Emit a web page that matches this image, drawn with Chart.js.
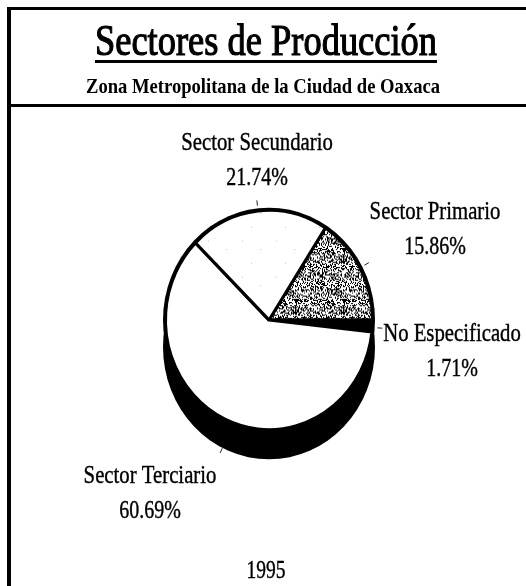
<!DOCTYPE html>
<html lang="es">
<head>
<meta charset="utf-8">
<title>Sectores de Producción</title>
<script src="https://cdn.jsdelivr.net/npm/chart.js@4.4.1/dist/chart.umd.min.js"></script>
<style>
	html, body { margin: 0; padding: 0; background: #fff; }
	#sectorChart { display: block; }
</style>
</head>
<body>
<canvas id="sectorChart" width="526" height="586"></canvas>
<script>
// Datos de los sectores (orden de las rebanadas, sentido horario)
const sectores = ['Sector Primario', 'No Especificado', 'Sector Terciario', 'Sector Secundario']
const porcentajes = [15.86, 1.71, 60.69, 21.74]
const titulo = 'Sectores de Producción'
const subtitulo = 'Zona Metropolitana de la Ciudad de Oaxaca'
const anio = '1995'

// Posición de cada etiqueta: centro x y línea base del nombre
const posEtiquetas = [
	{ x: 435, y: 219 },
	{ x: 452, y: 341 },
	{ x: 150, y: 483 },
	{ x: 257, y: 150 },
]

const PROFUNDIDAD = 27
const ESTIRAR_Y = 1.06
const COMPRIMIR = 0.83
const fuente = '"Liberation Serif", "Times New Roman", serif'

// Trama punteada densa (sector primario)
function tramaDensa() {
	const c = document.createElement('canvas')
	c.width = 48
	c.height = 48
	const g = c.getContext('2d')
	g.fillStyle = '#fff'
	g.fillRect(0, 0, 48, 48)
	g.fillStyle = '#000'
	for (let y = 0; y < 48; y++) {
		for (let x = 0; x < 48; x++) {
			const h = Math.sin(x * 12.9898 + y * 78.233) * 43758.5453
			if (h - Math.floor(h) < 0.45) g.fillRect(x, y, 1, 1)
		}
	}
	return g.createPattern(c, 'repeat')
}

// Trama clara con pocos puntos (sector secundario)
function tramaClara() {
	const c = document.createElement('canvas')
	c.width = 34
	c.height = 34
	const g = c.getContext('2d')
	g.fillStyle = '#fff'
	g.fillRect(0, 0, 34, 34)
	g.fillStyle = '#c8c8c8'
	g.fillRect(4, 7, 1, 1)
	g.fillRect(22, 15, 1, 1)
	g.fillRect(13, 28, 1, 1)
	return g.createPattern(c, 'repeat')
}

// Texto centrado, comprimido horizontalmente
function texto(ctx, txt, cx, base, font, escala, trazo) {
	ctx.font = font
	const w = ctx.measureText(txt).width
	ctx.save()
	ctx.translate(cx, base)
	ctx.scale(escala, 1)
	ctx.textAlign = 'center'
	ctx.textBaseline = 'alphabetic'
	ctx.fillStyle = '#000'
	ctx.fillText(txt, 0, 0)
	if (trazo) {
		ctx.strokeStyle = '#000'
		ctx.lineWidth = trazo
		ctx.strokeText(txt, 0, 0)
	}
	ctx.restore()
	return w * escala
}

// Marco, sombra 3D, marcas y textos
const pastel3d = {
	id: 'pastel3d',
	beforeDraw(chart) {
		const ctx = chart.ctx
		ctx.save()
		ctx.fillStyle = '#000'
		ctx.fillRect(8, 7, 518, 3)
		ctx.fillRect(8, 104, 518, 3)
		ctx.fillRect(7, 7, 4, 579)
		ctx.restore()
	},
	beforeDatasetsDraw(chart) {
		const ctx = chart.ctx
		const arc = chart.getDatasetMeta(0).data[0]
		const { x, y, outerRadius } = arc.getProps(['x', 'y', 'outerRadius'], true)
		const r = outerRadius + 2.5
		ctx.save()
		ctx.fillStyle = '#000'
		ctx.beginPath()
		ctx.ellipse(x, y + PROFUNDIDAD, r, r * ESTIRAR_Y, 0, 0, Math.PI * 2)
		ctx.fill()
		ctx.beginPath()
		ctx.ellipse(x, y, r, r * ESTIRAR_Y, 0, 0, Math.PI * 2)
		ctx.fill()
		ctx.restore()
		ctx.save()
		ctx.translate(x, y)
		ctx.scale(1, ESTIRAR_Y)
		ctx.translate(-x, -y)
	},
	afterDatasetsDraw(chart) {
		chart.ctx.restore()
	},
	afterDraw(chart) {
		const ctx = chart.ctx
		const arcs = chart.getDatasetMeta(0).data

		// Marcas cortas junto a cada rebanada
		ctx.save()
		ctx.strokeStyle = '#222'
		ctx.lineWidth = 1
		arcs.forEach((arc) => {
			const p = arc.getProps(['x', 'y', 'startAngle', 'endAngle', 'outerRadius'], true)
			const a = (p.startAngle + p.endAngle) / 2
			const bajar = PROFUNDIDAD * Math.max(0, Math.sin(a))
			const r1 = p.outerRadius + 5
			const r2 = p.outerRadius + 10
			ctx.beginPath()
			ctx.moveTo(p.x + Math.cos(a) * r1, p.y + Math.sin(a) * r1 * ESTIRAR_Y + bajar)
			ctx.lineTo(p.x + Math.cos(a) * r2, p.y + Math.sin(a) * r2 * ESTIRAR_Y + bajar)
			ctx.stroke()
		})
		ctx.restore()

		// Título subrayado y subtítulo
		ctx.font = '44px ' + fuente
		const escT = 342 / ctx.measureText(titulo).width
		const wt = texto(ctx, titulo, 266, 55, '44px ' + fuente, escT, 1.2)
		ctx.fillStyle = '#000'
		ctx.fillRect(266 - wt / 2, 60, wt, 3)
		ctx.font = 'bold 21px ' + fuente
		const escS = 354 / ctx.measureText(subtitulo).width
		texto(ctx, subtitulo, 263, 93, 'bold 21px ' + fuente, escS)

		// Etiquetas de los sectores
		sectores.forEach((nombre, i) => {
			const pos = posEtiquetas[i]
			texto(ctx, nombre, pos.x, pos.y, '25px ' + fuente, COMPRIMIR, 0.4)
			texto(ctx, porcentajes[i].toFixed(2) + '%', pos.x, pos.y + 35, '25px ' + fuente, 0.8, 0.4)
		})

		// Año
		texto(ctx, anio, 266, 578, '25px ' + fuente, 0.78, 0.4)
	},
}

const ctx = document.getElementById('sectorChart').getContext('2d')
const chart = new Chart(ctx, {
	type: 'pie',
	data: {
		labels: sectores,
		datasets: [
			{
				data: porcentajes,
				backgroundColor: [tramaDensa(), '#000', '#fff', tramaClara()],
				borderColor: '#000',
				borderWidth: 3,
			},
		],
	},
	options: {
		responsive: false,
		animation: false,
		events: [],
		rotation: 33,
		layout: {
			padding: { left: 164, right: 152, top: 215, bottom: 161 },
		},
		plugins: {
			legend: { display: false },
			tooltip: { enabled: false },
		},
	},
	plugins: [pastel3d],
})
</script>
</body>
</html>
